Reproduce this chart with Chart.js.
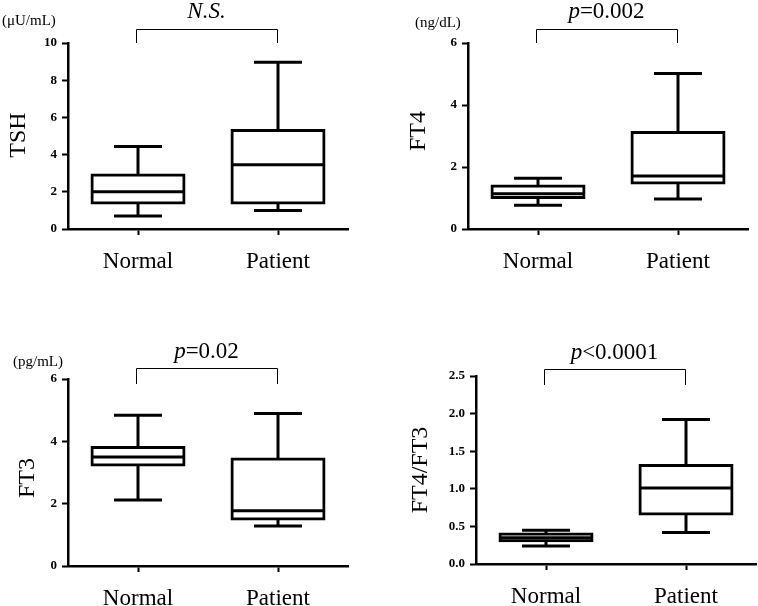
<!DOCTYPE html>
<html>
<head>
<meta charset="utf-8">
<script src="https://cdn.jsdelivr.net/npm/chart.js@4.4.1/dist/chart.umd.min.js"></script>
<style>
  html,body{margin:0;padding:0;background:#fff;}
  body{width:758px;height:606px;position:relative;overflow:hidden;}
  canvas{position:absolute;}
</style>
</head>
<body>
<canvas id="c1" width="379" height="303" style="left:0;top:0"></canvas>
<canvas id="c2" width="379" height="303" style="left:379px;top:0"></canvas>
<canvas id="c3" width="379" height="303" style="left:0;top:303px"></canvas>
<canvas id="c4" width="379" height="303" style="left:379px;top:303px"></canvas>
<script>
// ---- data ----
const categories = ['Normal', 'Patient'];

const tshMin = [0.7, 1.0];
const tshQ1  = [1.4, 1.4];
const tshMed = [2.0, 3.46];
const tshQ3  = [2.9, 5.3];
const tshMax = [4.43, 8.96];

const ft4Min = [0.77, 0.97];
const ft4Q1  = [1.02, 1.48];
const ft4Med = [1.14, 1.71];
const ft4Q3  = [1.39, 3.11];
const ft4Max = [1.64, 5.02];

const ft3Min = [2.12, 1.28];
const ft3Q1  = [3.24, 1.51];
const ft3Med = [3.5, 1.77];
const ft3Q3  = [3.8, 3.43];
const ft3Max = [4.84, 4.89];

const ratioMin = [0.24, 0.42];
const ratioQ1  = [0.31, 0.665];
const ratioMed = [0.35, 1.01];
const ratioQ3  = [0.40, 1.31];
const ratioMax = [0.45, 1.92];

const tshTicks   = [0, 2, 4, 6, 8, 10];
const ft4Ticks   = [0, 2, 4, 6];
const ft3Ticks   = [0, 2, 4, 6];
const ratioTicks = [0, 0.5, 1.0, 1.5, 2.0, 2.5];

const FONT = "'Liberation Serif', 'Times New Roman', serif";

// ---- panel layout (page coordinates) ----
const panels = [
  { id:'c1', left:0, top:0, w:379, h:303, area:{l:68,t:43,r:348,b:229},
    ticks:tshTicks, dec:0, title:'TSH', titleX:19, titleY:135,
    unit:'(μU/mL)', unitX:2, unitY:21,
    sig:[{t:'N.S.', i:true}], sigY:12, brTop:29, brLeg:43,
    min:tshMin, q1:tshQ1, med:tshMed, q3:tshQ3, max:tshMax },
  { id:'c2', left:379, top:0, w:379, h:303, area:{l:468,t:43,r:748,b:229},
    ticks:ft4Ticks, dec:0, title:'FT4', titleX:419, titleY:131,
    unit:'(ng/dL)', unitX:415, unitY:23,
    sig:[{t:'p', i:true},{t:'=0.002', i:false}], sigY:12, brTop:29, brLeg:43,
    min:ft4Min, q1:ft4Q1, med:ft4Med, q3:ft4Q3, max:ft4Max },
  { id:'c3', left:0, top:303, w:379, h:303, area:{l:68,t:379,r:348,b:566},
    ticks:ft3Ticks, dec:0, title:'FT3', titleX:28, titleY:478,
    unit:'(pg/mL)', unitX:13, unitY:362,
    sig:[{t:'p', i:true},{t:'=0.02', i:false}], sigY:352, brTop:368, brLeg:384,
    min:ft3Min, q1:ft3Q1, med:ft3Med, q3:ft3Q3, max:ft3Max },
  { id:'c4', left:379, top:303, w:379, h:303, area:{l:476,t:376,r:756,b:564},
    ticks:ratioTicks, dec:1, title:'FT4/FT3', titleX:421, titleY:470,
    unit:null,
    sig:[{t:'p', i:true},{t:'<0.0001', i:false}], sigY:353, brTop:369, brLeg:385,
    min:ratioMin, q1:ratioQ1, med:ratioMed, q3:ratioQ3, max:ratioMax }
];

const boxExtras = {
  id: 'boxExtras',
  afterDatasetsDraw(chart, args, o) {
    const p = o.panel;
    const ctx = chart.ctx, xs = chart.scales.x, ys = chart.scales.y;
    ctx.save();
    ctx.strokeStyle = '#000';
    ctx.lineWidth = 3;
    ctx.lineCap = 'butt';
    categories.forEach((c, i) => {
      const cx = xs.getPixelForValue(i);
      const yMin = ys.getPixelForValue(p.min[i]);
      const yQ1 = ys.getPixelForValue(p.q1[i]);
      const yMed = ys.getPixelForValue(p.med[i]);
      const yQ3 = ys.getPixelForValue(p.q3[i]);
      const yMax = ys.getPixelForValue(p.max[i]);
      ctx.beginPath();
      ctx.moveTo(cx, yQ3); ctx.lineTo(cx, yMax);
      ctx.moveTo(cx, yQ1); ctx.lineTo(cx, yMin);
      ctx.moveTo(cx - 24, yMax); ctx.lineTo(cx + 24, yMax);
      ctx.moveTo(cx - 24, yMin); ctx.lineTo(cx + 24, yMin);
      ctx.moveTo(cx - 47, yMed); ctx.lineTo(cx + 47, yMed);
      ctx.stroke();
    });
    ctx.restore();
  },
  afterDraw(chart, args, o) {
    const p = o.panel;
    const ctx = chart.ctx, xs = chart.scales.x;
    ctx.save();
    ctx.fillStyle = '#000';
    // y title
    ctx.save();
    ctx.translate(p.titleX - p.left, p.titleY - p.top);
    ctx.rotate(-Math.PI / 2);
    ctx.font = '24px ' + FONT;
    ctx.textAlign = 'center';
    ctx.textBaseline = 'middle';
    ctx.fillText(p.title, 0, 0);
    ctx.restore();
    // unit
    if (p.unit) {
      ctx.font = '15px ' + FONT;
      ctx.textAlign = 'left';
      ctx.textBaseline = 'middle';
      ctx.fillText(p.unit, p.unitX - p.left, p.unitY - p.top);
    }
    // bracket
    const x0 = xs.getPixelForValue(0) - 2, x1 = xs.getPixelForValue(1) - 1;
    const yt = p.brTop - p.top + 0.5, yl = p.brLeg - p.top;
    ctx.strokeStyle = '#000';
    ctx.lineWidth = 1;
    ctx.beginPath();
    ctx.moveTo(Math.round(x0) + 0.5, yl); ctx.lineTo(Math.round(x0) + 0.5, yt);
    ctx.lineTo(Math.round(x1) + 0.5, yt); ctx.lineTo(Math.round(x1) + 0.5, yl);
    ctx.stroke();
    // significance text
    const parts = p.sig.map(s => {
      const f = (s.i ? 'italic ' : '') + '23px ' + FONT;
      ctx.font = f;
      return { t: s.t, f, w: ctx.measureText(s.t).width };
    });
    const total = parts.reduce((a, b) => a + b.w, 0);
    let sx = (x0 + x1) / 2 - total / 2;
    ctx.textAlign = 'left';
    ctx.textBaseline = 'middle';
    parts.forEach(pt => { ctx.font = pt.f; ctx.fillText(pt.t, sx, p.sigY - p.top); sx += pt.w; });
    ctx.restore();
  }
};

panels.forEach(p => {
  const padTop = p.area.t - p.top;
  const padRight = (p.left + p.w) - p.area.r;
  const yWidth = p.area.l - p.left;
  const xHeight = (p.top + p.h) - p.area.b;
  const boxes = categories.map((c, i) => [p.q1[i], p.q3[i]]);
  new Chart(document.getElementById(p.id), {
    type: 'bar',
    data: {
      labels: categories,
      datasets: [{
        data: boxes,
        backgroundColor: '#fff',
        borderColor: '#000',
        borderWidth: 3,
        borderSkipped: false,
        inflateAmount: 1.5,
        barThickness: 92
      }]
    },
    options: {
      responsive: false,
      animation: false,
      devicePixelRatio: 1,
      layout: { padding: { top: padTop, right: padRight, left: 0, bottom: 0 } },
      plugins: {
        legend: { display: false },
        tooltip: { enabled: false },
        boxExtras: { panel: p }
      },
      scales: {
        x: {
          offset: true,
          grid: { display: true, drawOnChartArea: false, drawTicks: true, tickLength: 6,
                  tickColor: '#000', tickWidth: 2, offset: false, color: '#000' },
          border: { display: true, color: '#000', width: 2.5 },
          ticks: { color: '#000', font: { family: FONT, size: 23 }, padding: 13, maxRotation: 0 },
          afterFit: s => { s.height = xHeight; }
        },
        y: {
          min: p.ticks[0],
          max: p.ticks[p.ticks.length - 1],
          afterBuildTicks: s => { s.ticks = p.ticks.map(v => ({ value: v })); },
          grid: { display: true, drawOnChartArea: false, drawTicks: true, tickLength: 6,
                  tickColor: '#000', tickWidth: 2, color: '#000' },
          border: { display: true, color: '#000', width: 2.5 },
          ticks: { color: '#000', font: { family: FONT, size: 13, weight: 'bold' }, padding: 5,
                   callback: v => Number(v).toFixed(p.dec) },
          afterFit: s => { s.width = yWidth; }
        }
      }
    },
    plugins: [boxExtras]
  });
});
</script>
</body>
</html>
